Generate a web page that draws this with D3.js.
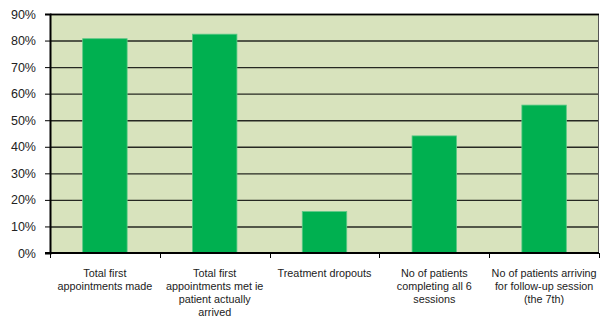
<!DOCTYPE html>
<html><head><meta charset="utf-8">
<script src="https://cdn.jsdelivr.net/npm/d3@7"></script>
<style>body{margin:0;background:#fff}svg{display:block}</style>
</head><body>
<svg id="c" width="600" height="320"></svg>
<script>
const categories = [
  ["Total first", "appointments made"],
  ["Total first", "appointments met ie", "patient actually", "arrived"],
  ["Treatment dropouts"],
  ["No of patients", "completing all 6", "sessions"],
  ["No of patients arriving", "for follow-up session", "(the 7th)"]
];
const values = [80.7, 82.4, 15.6, 44.1, 55.7];
const yTicks = [0, 10, 20, 30, 40, 50, 60, 70, 80, 90];

const svg = d3.select("#c");
const L = 50, R = 599, T = 14, B = 253;
const x = d3.scaleBand().domain(d3.range(categories.length)).range([L, R]).paddingInner(0).paddingOuter(0);
const y = d3.scaleLinear().domain([0, 90]).range([B, T]);

svg.append("rect").attr("x", L).attr("y", T).attr("width", R - L).attr("height", B - T).attr("fill", "#d8e3bd");

svg.append("g").selectAll("line").data(yTicks.filter(d => d > 0)).join("line")
  .attr("x1", L).attr("x2", R).attr("y1", d => y(d) + 0.5).attr("y2", d => y(d) + 0.5)
  .attr("stroke", "#262822").attr("stroke-width", 1.4);

svg.append("line").attr("x1", R - 0.5).attr("x2", R - 0.5).attr("y1", T).attr("y2", B).attr("stroke", "#555").attr("stroke-width", 1);

const bw = x.bandwidth() * 0.405;
svg.append("g").selectAll("rect").data(values).join("rect")
  .attr("x", (d, i) => x(i) + (x.bandwidth() - bw) / 2)
  .attr("y", d => y(d))
  .attr("width", bw)
  .attr("height", d => B - y(d))
  .attr("fill", "#00b050")
  .attr("stroke", "#5cc987").attr("stroke-width", 0.8);

// Y axis
const yAxis = d3.axisLeft(y).tickValues(yTicks).tickSize(5).tickFormat(d => d + "%");
const gy = svg.append("g").attr("transform", `translate(${L},0)`).call(yAxis);
gy.select(".domain").attr("stroke", "#000").attr("stroke-width", 2);
gy.selectAll(".tick line").attr("stroke", "#000").attr("stroke-width", 1);
gy.selectAll(".tick text").attr("x", -14).attr("font-family", "Liberation Sans, Arial, sans-serif").attr("font-size", 12.5).attr("fill", "#222");

// X axis
svg.append("line").attr("x1", L - 5).attr("x2", R).attr("y1", B).attr("y2", B).attr("stroke", "#000").attr("stroke-width", 2);
svg.append("g").selectAll("line").data(d3.range(categories.length + 1)).join("line")
  .attr("x1", i => Math.round(L + i * x.step()) + 0.5).attr("x2", i => Math.round(L + i * x.step()) + 0.5)
  .attr("y1", B).attr("y2", B + 5).attr("stroke", "#000").attr("stroke-width", 1);
// top border
svg.append("line").attr("x1", L).attr("x2", R).attr("y1", T + 0.5).attr("y2", T + 0.5).attr("stroke", "#000").attr("stroke-width", 1.3);

const lab = svg.append("g").selectAll("text").data(categories).join("text")
  .attr("x", (d, i) => x(i) + x.bandwidth() / 2)
  .attr("y", 277)
  .attr("text-anchor", "middle")
  .attr("font-family", "Liberation Sans, Arial, sans-serif")
  .attr("font-size", 10.8).attr("fill", "#222");
lab.each(function(d) {
  d3.select(this).selectAll("tspan").data(d).join("tspan")
    .attr("x", d3.select(this).attr("x"))
    .attr("dy", (t, j) => j === 0 ? 0 : 13)
    .text(t => t);
});
</script>
</body></html>
